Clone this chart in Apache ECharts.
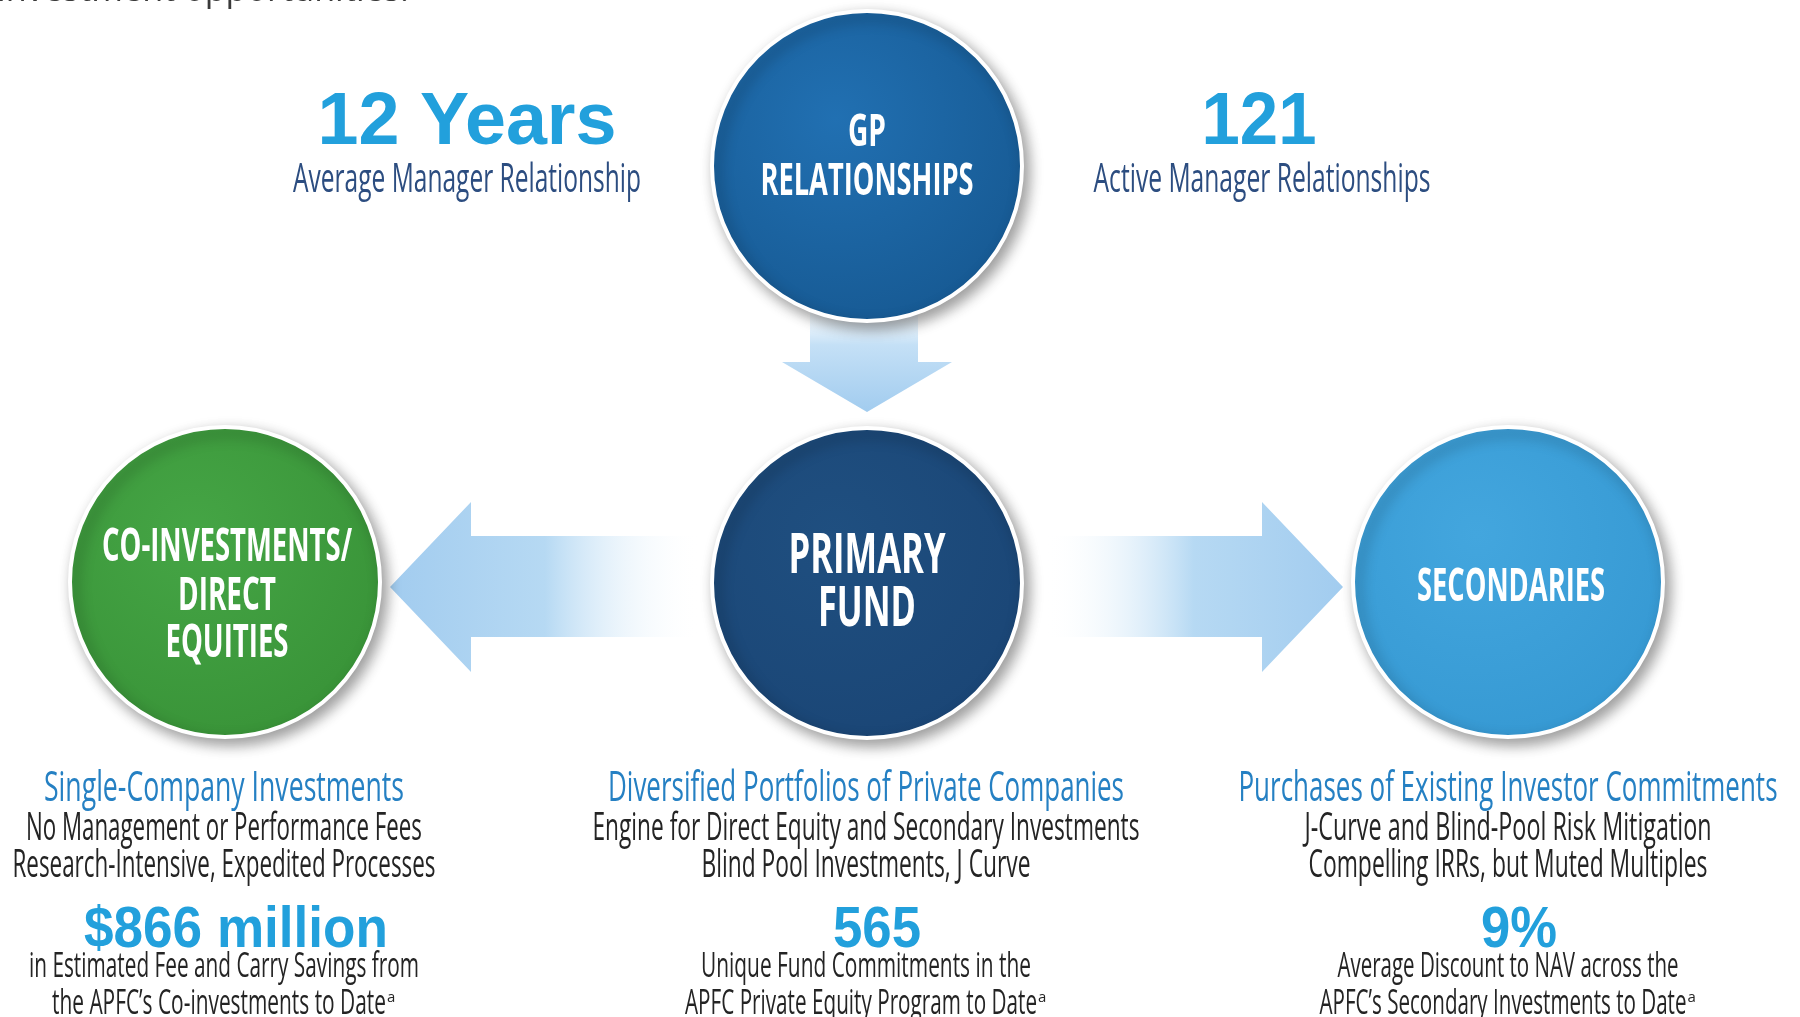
<!DOCTYPE html>
<html>
<head>
<meta charset="utf-8">
<script src="https://cdn.jsdelivr.net/npm/echarts@6/dist/echarts.min.js"></script>
<style>
  html, body { margin: 0; padding: 0; background: #fff; }
  #chart { width: 1800px; height: 1017px; }
</style>
</head>
<body>
<div id="chart"></div>
<script>
// ---- content ----
const introText = "investment opportunities.";
const nodeNames = ["GP\nRELATIONSHIPS", "PRIMARY\nFUND", "CO-INVESTMENTS/\nDIRECT\nEQUITIES", "SECONDARIES"];
const headlineValues = ["12 Years", "121"];
const headlineCaptions = ["Average Manager Relationship", "Active Manager Relationships"];
const columnTitles = [
    "Single-Company Investments",
    "Diversified Portfolios of Private Companies",
    "Purchases of Existing Investor Commitments",
];
const columnPoints = [
    ["No Management or Performance Fees", "Research-Intensive, Expedited Processes"],
    ["Engine for Direct Equity and Secondary Investments", "Blind Pool Investments, J Curve"],
    ["J-Curve and Blind-Pool Risk Mitigation", "Compelling IRRs, but Muted Multiples"],
];
const statValues = ["$866 million", "565", "9%"];
const statCaptions = [
    ["in Estimated Fee and Carry Savings from", "the APFC\u2019s Co-investments to Date"],
    ["Unique Fund Commitments in the", "APFC Private Equity Program to Date"],
    ["Average Discount to NAV across the", "APFC\u2019s Secondary Investments to Date"],
];
const footnoteMark = "a";

// ---- layout ----
const nodePos = [[867, 166], [867, 583], [225, 582], [1508, 582]];
const nodeColors = [
    ["#2170b2", "#165891"],
    ["#1f4f80", "#1a4575"],
    ["#45a545", "#389237"],
    ["#43a6de", "#3598d2"],
];
const nodeLineWidths = [[38, 213], [157, 98], [250, 98, 123], [188]];
const nodeLineBase = [[147, 196], [574, 627], [562, 611, 658], [602]];
const nodeFont = [44, 56, 47, 47];
const colX = [224, 866, 1508];
const titleW = [360, 516, 539];
const pointW = [[396, 423], [547, 329], [407, 399]];
const statX = [236, 877, 1519];
const statW = [304, 88, 76];
const capW = [390, 330, 341];
const cap2W = [334, 352, 367];

const BLUE = "#22a0dc";
const DARK = "#242424";

const ctx = document.createElement("canvas").getContext("2d");
function txt(text, x, base, size, width, o) {
    o = o || {};
    const weight = o.weight || "normal";
    const family = o.family || "Open Sans";
    ctx.font = weight + " " + size + "px \"" + family + "\"";
    const s = width ? width / ctx.measureText(text).width : 1;
    return {
        type: "text", x: x, y: base - size * 0.3, scaleX: s, z: 100, silent: true,
        style: {
            text: text, fontSize: size, fontWeight: weight, fontFamily: "\"" + family + "\"",
            fill: o.color || DARK, align: o.align || "center", verticalAlign: "middle",
        },
    };
}

const els = [];
els.push(txt(introText, -3, 2, 34, 412, { align: "left", color: "#3a3a3a" }));

// headline stats next to GP circle
[467, 1259].forEach((x, i) => {
    els.push(txt(headlineValues[i], x, 146, 75, [299, 115][i], { weight: "bold", family: "Liberation Sans", color: BLUE }));
    els.push(txt(headlineCaptions[i], x + [0, 3][i], 193, 40, [348, 337][i], { color: "#2c4d80" }));
});

// circle labels
nodeNames.forEach((n, i) => {
    n.split("\n").forEach((line, j) => {
        const cx = i === 3 ? 1511 : nodePos[i][0] + (i === 2 ? 2 : 0);
        els.push(txt(line, cx, nodeLineBase[i][j], nodeFont[i], nodeLineWidths[i][j], { weight: "bold", color: "#ffffff" }));
    });
});

// bottom columns
colX.forEach((x, i) => {
    els.push(txt(columnTitles[i], x, 802, 42, titleW[i], { color: "#2580c3" }));
    columnPoints[i].forEach((p, j) => els.push(txt(p, x, [841, 878][j], 38, pointW[i][j])));
    els.push(txt(statValues[i], statX[i], 948, 57, statW[i], { weight: "bold", family: "Liberation Sans", color: BLUE }));
    els.push(txt(statCaptions[i][0], x, 978, 34, capW[i]));
    const w2 = cap2W[i];
    els.push(txt(statCaptions[i][1], x - 5, 1015, 34, w2));
    els.push(txt(footnoteMark, x - 5 + w2 / 2 + 1, 1002, 15, 0, { align: "left" }));
});

// arrows
const fadeDown = { type: "linear", x: 0, y: 0, x2: 0, y2: 1, colorStops: [
    { offset: 0, color: "rgba(255,255,255,0)" }, { offset: 0.45, color: "#c4e0f6" }, { offset: 1, color: "#a2ccef" }] };
const fadeLeft = { type: "linear", x: 0, y: 0, x2: 1, y2: 0, colorStops: [
    { offset: 0, color: "#a2ccef" }, { offset: 0.5, color: "#b6d9f3" }, { offset: 1, color: "rgba(255,255,255,0)" }] };
const fadeRight = { type: "linear", x: 0, y: 0, x2: 1, y2: 0, colorStops: [
    { offset: 0, color: "rgba(255,255,255,0)" }, { offset: 0.5, color: "#b6d9f3" }, { offset: 1, color: "#a2ccef" }] };
els.push({ type: "polygon", z: 0, silent: true, shape: { points: [[810, 290], [918, 290], [918, 362], [952, 362], [867, 412], [782, 362], [810, 362]] }, style: { fill: fadeDown } });
els.push({ type: "polygon", z: 0, silent: true, shape: { points: [[390, 587], [471, 502], [471, 536], [700, 536], [700, 637], [471, 637], [471, 672]] }, style: { fill: fadeLeft } });
els.push({ type: "polygon", z: 0, silent: true, shape: { points: [[1045, 536], [1262, 536], [1262, 502], [1343, 587], [1262, 672], [1262, 637], [1045, 637]] }, style: { fill: fadeRight } });

const chart = echarts.init(document.getElementById("chart"));
chart.setOption({
    animation: false,
    backgroundColor: "#ffffff",
    grid: { left: 0, right: 0, top: 0, bottom: 0 },
    xAxis: { type: "value", min: 0, max: 1800, show: false },
    yAxis: { type: "value", min: 0, max: 1017, inverse: true, show: false },
    graphic: { elements: els },
    series: [{
        type: "scatter",
        symbol: "circle",
        symbolSize: 310,
        silent: true,
        z: 10,
        data: nodeNames.map((n, i) => ({
            name: n,
            value: nodePos[i],
            itemStyle: { color: { type: "radial", x: 0.4, y: 0.35, r: 0.75, colorStops: [
                { offset: 0, color: nodeColors[i][0] }, { offset: 1, color: nodeColors[i][1] }] } },
        })),
        itemStyle: {
            borderColor: "#ffffff", borderWidth: 4, opacity: 1,
            shadowBlur: 14, shadowColor: "rgba(0,0,0,0.38)", shadowOffsetX: 5, shadowOffsetY: 6,
        },
    }],
});
</script>
</body>
</html>
